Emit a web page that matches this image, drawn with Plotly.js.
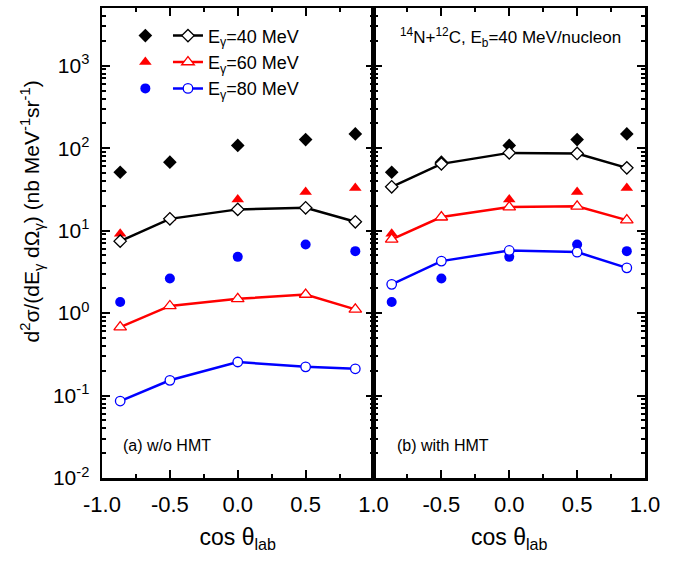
<!DOCTYPE html>
<html><head><meta charset="utf-8">
<script src="https://cdn.plot.ly/plotly-3.0.1.min.js"></script>
<style>body{margin:0;background:#fff}#chart{width:689px;height:561px}</style>
</head><body><div id="chart"></div>
<script>
// ---- data ----
const cosTheta = [-0.866, -0.5, 0, 0.5, 0.866];
const exp40 = [51, 67.6, 108, 127, 149];
const exp60 = [9.15, 14.3, 23.9, 29.5, 33];
const exp80 = [1.36, 2.63, 4.81, 6.8, 5.64];
const noHmt40 = [7.46, 13.9, 18.1, 18.9, 12.8];
const noHmt60 = [0.676, 1.22, 1.49, 1.68, 1.11];
const noHmt80 = [0.0858, 0.153, 0.255, 0.223, 0.211];
const hmt40 = [34, 64.5, 87.7, 86.3, 57.7];
const hmt60 = [7.82, 14.6, 19.3, 19.7, 13.4];
const hmt80 = [2.23, 4.27, 5.75, 5.49, 3.54];
const seriesLabels = ['E<sub>γ</sub>=40 MeV', 'E<sub>γ</sub>=60 MeV', 'E<sub>γ</sub>=80 MeV'];
const yTickVals = [0.01, 0.1, 1, 10, 100, 1000];
const yTickText = ['10<sup>-2</sup>', '10<sup>-1</sup>', '10<sup>0</sup>', '10<sup>1</sup>', '10<sup>2</sup>', '10<sup>3</sup>'];
const xTickVals = [-1, -0.5, 0, 0.5, 1];
const xTickText = ['-1.0', '-0.5', '0.0', '0.5', '1.0'];
const x2TickVals = [-0.5, 0, 0.5, 1];
const x2TickText = ['-0.5', '0.0', '0.5', '1.0'];

// ---- styles ----
const colors = ['#000000', '#ff0000', '#0000ff'];
const filledSym = ['diamond', 'triangle-up', 'circle'];
const openSym = ['diamond', 'triangle-up', 'circle'];
const filledSize = [10.5, 11, 10];
const openSize = [9.5, 11, 9.5];
const FONT = 'Liberation Sans, Arial, sans-serif';
const BLANK = '\u00a0<sub>\u00a0</sub>';

const expSets = [exp40, exp60, exp80];
const noHmtSets = [noHmt40, noHmt60, noHmt80];
const hmtSets = [hmt40, hmt60, hmt80];

const traces = [];
// experimental (filled) markers
[['x', 'y'], ['x2', 'y2']].forEach((ax, p) => {
  expSets.forEach((vals, i) => {
    traces.push({
      x: cosTheta, y: vals, xaxis: ax[0], yaxis: ax[1], type: 'scatter', mode: 'markers',
      name: BLANK, legend: 'legend', showlegend: p === 0,
      marker: {symbol: filledSym[i], size: filledSize[i], color: colors[i]}
    });
  });
});
// model lines with open (white-filled) markers
[['x', 'y', noHmtSets], ['x2', 'y2', hmtSets]].forEach((ax, p) => {
  ax[2].forEach((vals, i) => {
    traces.push({
      x: cosTheta, y: vals, xaxis: ax[0], yaxis: ax[1], type: 'scatter', mode: 'lines+markers',
      name: seriesLabels[i], legend: 'legend2', showlegend: p === 0,
      line: {color: colors[i], width: 2.5},
      marker: {symbol: openSym[i], size: openSize[i], color: '#ffffff', line: {color: colors[i], width: 1.3}}
    });
  });
});

const minorY = [];
for (let e = -2; e <= 3; e++) for (let k = 2; k <= 9; k++) minorY.push(k * Math.pow(10, e));

const xBase = {
  range: [-1, 1], showgrid: false, zeroline: false, showline: true, linecolor: '#000', linewidth: 2.5,
  mirror: 'allticks', ticks: 'inside', ticklen: 8, tickwidth: 2, tickcolor: '#000',
  tickfont: {family: FONT, size: 22, color: '#000'}, ticklabelstandoff: 5,
  minor: {ticks: 'inside', ticklen: 4, tickwidth: 2, tickcolor: '#000', dtick: 0.25, tick0: 0},
  title: {text: 'cos θ<sub>lab</sub>', font: {family: FONT, size: 23, color: '#000'}, standoff: 13}
};
const yBase = {
  type: 'log', range: [-2, 3.7], showgrid: false, zeroline: false, showline: true, linecolor: '#000', linewidth: 2.5,
  mirror: 'allticks', ticks: 'inside', ticklen: 8, tickwidth: 2, tickcolor: '#000',
  tickmode: 'array', tickvals: yTickVals, ticktext: yTickText,
  tickfont: {family: FONT, size: 21, color: '#000'}, ticklabelstandoff: 6,
  minor: {ticks: 'inside', ticklen: 4, tickwidth: 2, tickcolor: '#000', tickmode: 'array', tickvals: minorY}
};

const layout = {
  width: 689, height: 561,
  margin: {l: 102, r: 44, t: 8, b: 83},
  paper_bgcolor: '#fff', plot_bgcolor: '#fff',
  font: {family: FONT, color: '#000'},
  xaxis: Object.assign({}, xBase, {domain: [0, 0.5], anchor: 'y', tickmode: 'array', tickvals: xTickVals, ticktext: xTickText}),
  xaxis2: Object.assign({}, xBase, {domain: [0.5, 1], anchor: 'y2', tickmode: 'array', tickvals: x2TickVals, ticktext: x2TickText}),
  yaxis: Object.assign({}, yBase, {anchor: 'x'}),
  yaxis2: Object.assign({}, yBase, {anchor: 'x2', matches: 'y', showticklabels: false}),
  legend: {x: 0.043, y: 0.980, xanchor: 'left', yanchor: 'top', bgcolor: 'rgba(0,0,0,0)',
           font: {family: FONT, size: 18, color: '#000'}, tracegroupgap: 0},
  legend2: {x: 0.1215, y: 0.980, xanchor: 'left', yanchor: 'top', bgcolor: 'rgba(0,0,0,0)',
           font: {family: FONT, size: 18, color: '#000'}, tracegroupgap: 0},
  annotations: [
    {text: 'd<sup>2</sup>σ/(dE<sub>γ</sub> dΩ<sub>γ</sub>) (nb MeV<sup>-1</sup>sr<sup>-1</sup>)', textangle: -90,
     xref: 'paper', yref: 'paper', x: -0.13, y: 0.568, xanchor: 'center', yanchor: 'middle', showarrow: false,
     font: {family: FONT, size: 21, color: '#000'}},
    {text: '<sup>14</sup>N+<sup>12</sup>C, E<sub>b</sub>=40 MeV/nucleon', xref: 'paper', yref: 'paper',
     x: 0.545, y: 0.938, xanchor: 'left', yanchor: 'middle', showarrow: false,
     font: {family: FONT, size: 17, color: '#000'}},
    {text: '(a) w/o HMT', xref: 'paper', yref: 'paper', x: 0.035, y: 0.07, xanchor: 'left', yanchor: 'middle',
     showarrow: false, font: {family: FONT, size: 16, color: '#000'}},
    {text: '(b) with HMT', xref: 'paper', yref: 'paper', x: 0.54, y: 0.07, xanchor: 'left', yanchor: 'middle',
     showarrow: false, font: {family: FONT, size: 16, color: '#000'}}
  ]
};

Plotly.newPlot('chart', traces, layout, {displayModeBar: false, staticPlot: true});
</script>
</body></html>
